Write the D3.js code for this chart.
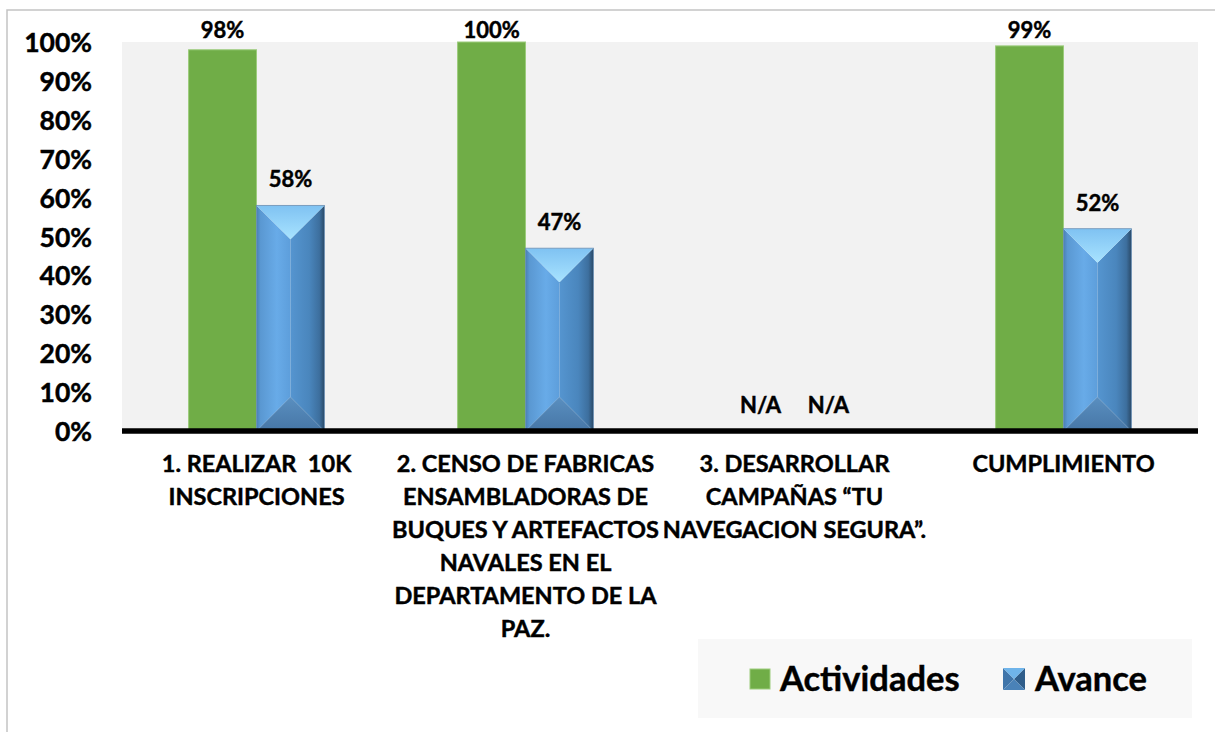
<!DOCTYPE html>
<html>
<head>
<meta charset="utf-8">
<script src="https://cdn.jsdelivr.net/npm/d3@7"></script>
<style>
  html, body { margin: 0; padding: 0; background: #ffffff; }
  svg { display: block; }
  text { font-family: Lato, "Open Sans", sans-serif; font-weight: bold; fill: #000; stroke: #000; stroke-width: 0.45px; white-space: pre; }
</style>
</head>
<body>
<script>
// ---- data ----
const categories = [
  "1. REALIZAR  10K INSCRIPCIONES",
  "2. CENSO DE FABRICAS ENSAMBLADORAS DE BUQUES Y ARTEFACTOS NAVALES EN EL DEPARTAMENTO DE LA PAZ.",
  "3. DESARROLLAR CAMPAÑAS \u201CTU NAVEGACION SEGURA\u201D.",
  "CUMPLIMIENTO"
];
const categoryLines = [
  ["1. REALIZAR  10K", "INSCRIPCIONES"],
  ["2. CENSO DE FABRICAS", "ENSAMBLADORAS DE", "BUQUES Y ARTEFACTOS", "NAVALES EN EL", "DEPARTAMENTO DE LA", "PAZ."],
  ["3. DESARROLLAR", "CAMPAÑAS \u201CTU", "NAVEGACION SEGURA\u201D."],
  ["CUMPLIMIENTO"]
];
const seriesNames = ["Actividades", "Avance"];
const actividades = [0.98, 1.00, null, 0.99];
const avance = [0.58, 0.47, null, 0.52];
const yTicks = [0, 0.1, 0.2, 0.3, 0.4, 0.5, 0.6, 0.7, 0.8, 0.9, 1.0];
const naLabel = "N/A";

// ---- layout ----
const W = 1215, H = 732;
const plot = { left: 122, right: 1198, top: 42, bottom: 431 };

const svg = d3.select("body").append("svg").attr("width", W).attr("height", H);
const defs = svg.append("defs");

// outer chart border (only top & left visible)
svg.append("path")
  .attr("d", `M7,732 L7,10 L1215,10`)
  .attr("fill", "none").attr("stroke", "#c3c3c3").attr("stroke-width", 1.5);

// plot background
svg.append("rect")
  .attr("x", plot.left).attr("y", plot.top)
  .attr("width", plot.right - plot.left).attr("height", plot.bottom - plot.top)
  .attr("fill", "#f2f2f2");

const x0 = d3.scaleBand().domain(d3.range(categories.length)).range([plot.left, plot.right]).paddingInner(0).paddingOuter(0);
const x1 = d3.scaleBand().domain(seriesNames).range([0, x0.bandwidth()]).paddingInner(0).paddingOuter(0.98);
const y = d3.scaleLinear().domain([0, 1]).range([plot.bottom, plot.top]);

// gradients for bevelled blue bars
function lin(id, x1_, y1_, x2_, y2_, stops) {
  const g = defs.append("linearGradient").attr("id", id)
    .attr("x1", x1_).attr("y1", y1_).attr("x2", x2_).attr("y2", y2_);
  stops.forEach(s => g.append("stop").attr("offset", s[0]).attr("stop-color", s[1]));
}
lin("gLeft", "0", "0", "1", "0", [[0, "#4a7fb4"], [0.12, "#5a98d2"], [0.6, "#68abe8"], [1, "#5d9edb"]]);
lin("gRight", "0", "0", "1", "0", [[0, "#5595d0"], [0.55, "#4a86bd"], [0.85, "#3d6f9e"], [1, "#2a4a68"]]);
lin("gTop", "0", "0", "0", "1", [[0, "#7fc2f2"], [1, "#a8e3ff"]]);
lin("gBottom", "0", "0", "0", "1", [[0, "#5a8fc0"], [1, "#4676a6"]]);

// y axis labels
const yAxis = d3.axisLeft(y).tickValues(yTicks).tickFormat(d3.format(".0%")).tickSize(0).tickPadding(0);
const yg = svg.append("g").attr("transform", `translate(92,0)`).call(yAxis);
yg.select(".domain").remove();
yg.selectAll("text")
  .attr("font-family", "Lato, sans-serif").attr("font-weight", "bold")
  .attr("font-size", 26.5).attr("fill", "#000").attr("dy", "0.36em");

// bars
const groups = svg.append("g").selectAll("g")
  .data(categories.map((c, i) => ({ i, vals: [actividades[i], avance[i]] })))
  .join("g").attr("transform", d => `translate(${x0(d.i)},0)`);

groups.each(function (d) {
  const g = d3.select(this);
  // green
  const va = d.vals[0];
  if (va != null) {
    g.append("rect")
      .attr("x", x1("Actividades")).attr("y", y(va))
      .attr("width", x1.bandwidth()).attr("height", y(0) - y(va))
      .attr("fill", "#70ad47").attr("stroke", "#9ccc7c").attr("stroke-width", 1);
  }
  // blue bevelled
  const vb = d.vals[1];
  if (vb != null) {
    const bx0 = x1("Avance"), bx1 = bx0 + x1.bandwidth();
    const by0 = y(vb), by1 = y(0);
    const mid = (bx0 + bx1) / 2, dd = (bx1 - bx0) / 2;
    const pts = a => a.map(p => p.join(",")).join(" ");
    g.append("polygon").attr("points", pts([[bx0, by0], [mid, by0 + dd], [mid, by1 - dd], [bx0, by1]])).attr("fill", "url(#gLeft)");
    g.append("polygon").attr("points", pts([[bx1, by0], [mid, by0 + dd], [mid, by1 - dd], [bx1, by1]])).attr("fill", "url(#gRight)");
    g.append("polygon").attr("points", pts([[bx0, by0], [bx1, by0], [mid, by0 + dd]])).attr("fill", "url(#gTop)");
    g.append("polygon").attr("points", pts([[bx0, by1], [bx1, by1], [mid, by1 - dd]])).attr("fill", "url(#gBottom)");
    g.append("rect").attr("x", bx0).attr("y", by0).attr("width", bx1 - bx0).attr("height", by1 - by0)
      .attr("fill", "none").attr("stroke", "#6b8fb3").attr("stroke-width", 0.8);
  }
  // value labels
  seriesNames.forEach((s, k) => {
    const v = d.vals[k];
    const cx = x1(s) + x1.bandwidth() / 2;
    const ty = v == null ? y(0) - 18 : Math.max(y(v) - 18, 38);
    g.append("text")
      .attr("x", cx).attr("y", ty)
      .attr("text-anchor", "middle").attr("font-size", 22)
      .text(v == null ? naLabel : d3.format(".0%")(v));
  });
});

// baseline
svg.append("line")
  .attr("x1", plot.left).attr("x2", plot.right)
  .attr("y1", y(0)).attr("y2", y(0))
  .attr("stroke", "#000").attr("stroke-width", 5.5);

// category labels
categoryLines.forEach((lines, i) => {
  const t = svg.append("text")
    .attr("x", x0(i) + x0.bandwidth() / 2).attr("y", 472)
    .attr("text-anchor", "middle").attr("font-size", 23.5);
  lines.forEach((ln, j) => {
    t.append("tspan").attr("x", x0(i) + x0.bandwidth() / 2).attr("y", 472 + j * 33).text(ln);
  });
});

// legend
const lg = svg.append("g");
lg.append("rect").attr("x", 698).attr("y", 639).attr("width", 494).attr("height", 79).attr("fill", "#f8f8f8");
const legendItems = [
  { name: seriesNames[0], sx: 750, tx: 780, type: "green" },
  { name: seriesNames[1], sx: 1003, tx: 1035, type: "blue" }
];
legendItems.forEach(it => {
  if (it.type === "green") {
    lg.append("rect").attr("x", it.sx).attr("y", 669).attr("width", 20).attr("height", 20)
      .attr("fill", "#70ad47").attr("stroke", "#9ccc7c").attr("stroke-width", 1);
  } else {
    const a = it.sx, b = it.sx + 22, t = 668, bt = 690, m = (a + b) / 2, my = (t + bt) / 2;
    const pts = arr => arr.map(p => p.join(",")).join(" ");
    lg.append("polygon").attr("points", pts([[a, t], [m, my], [a, bt]])).attr("fill", "#3f75aa");
    lg.append("polygon").attr("points", pts([[b, t], [m, my], [b, bt]])).attr("fill", "#2f5d8a");
    lg.append("polygon").attr("points", pts([[a, t], [b, t], [m, my]])).attr("fill", "#6fb4ea");
    lg.append("polygon").attr("points", pts([[a, bt], [b, bt], [m, my]])).attr("fill", "#4a82b8");
  }
  lg.append("text").attr("x", it.tx).attr("y", 691).attr("font-size", 34.5).text(it.name);
});
</script>
</body>
</html>
